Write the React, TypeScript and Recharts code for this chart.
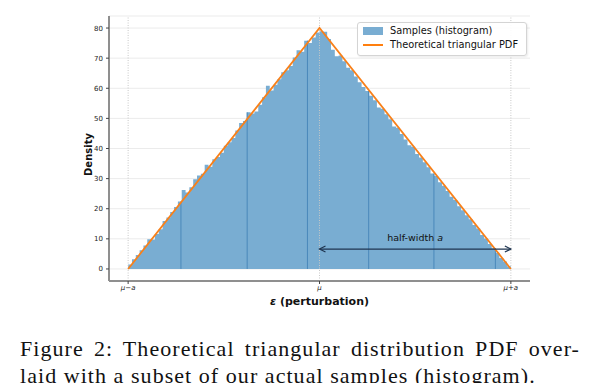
import {
  ComposedChart,
  Area,
  Line,
  XAxis,
  YAxis,
  CartesianGrid,
  ReferenceLine,
  ReferenceDot,
} from "recharts";

// histogram bin heights (density), 100 bins over [mu-a, mu+a]
const histHeights = [
  1.5, 3.2, 4.6, 6.2, 7.8, 9.9, 9.8, 11.6, 13.2, 15.9,
  17.1, 18.9, 20.6, 22.4, 26.2, 25.4, 27.1, 29.8, 31.0, 31.6,
  34.6, 33.9, 36.4, 37.2, 38.6, 40.9, 42.1, 43.5, 46.0, 48.5,
  49.1, 52.0, 51.6, 52.3, 54.5, 57.0, 60.8, 59.3, 61.2, 63.0,
  65.3, 66.0, 67.4, 70.2, 72.6, 72.1, 75.8, 75.0, 76.9, 78.5,
  78.9, 78.8, 76.4, 72.8, 70.6, 70.9, 69.0, 66.8, 66.0, 63.9,
  62.0, 60.4, 59.1, 57.5, 56.0, 53.6, 53.2, 51.4, 49.7, 47.3,
  46.9, 44.8, 43.0, 41.1, 40.6, 38.2, 37.0, 35.4, 33.8, 31.7,
  30.9, 28.8, 27.6, 25.9, 24.0, 22.9, 20.8, 19.5, 17.8, 16.5,
  14.6, 13.4, 11.3, 10.1, 8.3, 6.9, 5.4, 3.6, 2.5, 0.9,
];
const binStart = -1;
const binWidth = 0.02;

const pdfX = [-1, 0, 1];
const pdfY = [0, 80, 0];

const xTicks = [-1, 0, 1];
const xTickLabels = ["μ−a", "μ", "μ+a"];
const yTicks = [0, 10, 20, 30, 40, 50, 60, 70, 80];

// darker bar-edge streaks visible in the histogram
const streakX = [-0.724, -0.378, -0.063, 0.257, 0.598, 0.919];
const arrowY = 6.6;

const histData = histHeights.map((h, i) => ({ x: binStart + i * binWidth, h }));
histData.push({ x: binStart + histHeights.length * binWidth, h: histHeights[histHeights.length - 1] });
const pdfData = pdfX.map((x, i) => ({ x, pdf: pdfY[i] }));

const heightAt = (x: number) => {
  const i = Math.min(histHeights.length - 1, Math.floor((x - binStart) / binWidth));
  return histHeights[i];
};

const FONT = "'DejaVu Sans', sans-serif";

function LegendBox() {
  return (
    <div
      style={{
        position: "absolute",
        left: 357,
        top: 22,
        width: 168,
        height: 32,
        border: "1px solid #d4d4d4",
        borderRadius: 3,
        background: "rgba(255,255,255,0.9)",
        boxShadow: "1px 1px 2px rgba(0,0,0,0.08)",
        fontFamily: FONT,
        fontSize: 9.8,
        color: "#111",
      }}
    >
      <div style={{ position: "absolute", left: 5, top: 4, width: 20, height: 8, background: "#79add2" }} />
      <div style={{ position: "absolute", left: 32, top: 1, lineHeight: "13px" }}>Samples (histogram)</div>
      <div style={{ position: "absolute", left: 5, top: 21, width: 20, height: 2, background: "#ff7f0e" }} />
      <div style={{ position: "absolute", left: 32, top: 15, lineHeight: "13px" }}>Theoretical triangular PDF</div>
    </div>
  );
}

function Arrow(props: any) {
  const { x1, y1, x2, y2 } = props;
  const c = "#1f3550";
  return (
    <g stroke={c} strokeWidth={1.2} fill="none">
      <line x1={x1} y1={y1} x2={x2} y2={y2} />
      <polyline points={`${x1 + 6},${y1 - 3} ${x1},${y1} ${x1 + 6},${y1 + 3}`} />
      <polyline points={`${x2 - 6},${y2 - 3} ${x2},${y2} ${x2 - 6},${y2 + 3}`} />
    </g>
  );
}

export default function App() {
  return (
    <div style={{ width: 600, background: "#fff" }}>
      <style>{"body{margin:0}"}</style>
      <div style={{ position: "relative", width: 600, height: 315 }}>
        <ComposedChart
          width={600}
          height={315}
          margin={{ top: 16, right: 70, bottom: 4, left: 79 }}
        >
          <CartesianGrid vertical={false} stroke="#ebebeb" strokeWidth={1} />
          {xTicks.map((t) => (
            <ReferenceLine key={t} x={t} stroke="#c8c8c8" strokeDasharray="1 1.5" strokeWidth={1} />
          ))}
          <XAxis
            dataKey="x"
            type="number"
            domain={[-1.1, 1.1]}
            allowDataOverflow
            ticks={xTicks}
            tickFormatter={(v: number) => xTickLabels[xTicks.indexOf(v)]}
            tick={{ fontFamily: FONT, fontSize: 7, fill: "#222", fontStyle: "italic" }}
            tickSize={3}
            tickMargin={1}
            height={30}
            axisLine={{ stroke: "#8f8f8f", strokeWidth: 2 }}
            tickLine={{ stroke: "#444" }}
            label={{
              content: (p: any) => {
                const vb = p.viewBox;
                return (
                  <text
                    x={vb.x + vb.width / 2}
                    y={vb.y + 24}
                    textAnchor="middle"
                    fontFamily={FONT}
                    fontSize={11}
                    fontWeight="bold"
                    fill="#111"
                  >
                    <tspan fontStyle="italic">ε</tspan> (perturbation)
                  </text>
                );
              },
            }}
          />
          <YAxis
            type="number"
            domain={[-4, 84]}
            ticks={yTicks}
            width={30}
            tick={{ fontFamily: FONT, fontSize: 7, fill: "#222" }}
            tickSize={3}
            tickMargin={3}
            axisLine={{ stroke: "#8f8f8f", strokeWidth: 2 }}
            tickLine={{ stroke: "#444" }}
            label={{
              content: (p: any) => {
                const vb = p.viewBox;
                const cx = vb.x + 9;
                const cy = vb.y + vb.height / 2 + 6;
                return (
                  <text
                    x={cx}
                    y={cy}
                    transform={`rotate(-90 ${cx} ${cy})`}
                    textAnchor="middle"
                    dominantBaseline="central"
                    fontFamily={FONT}
                    fontSize={10}
                    fontWeight="bold"
                    fill="#111"
                  >
                    Density
                  </text>
                );
              },
            }}
          />
          <Area
            data={histData}
            dataKey="h"
            type="stepAfter"
            fill="#79add2"
            fillOpacity={1}
            stroke="none"
            isAnimationActive={false}
            name="Samples (histogram)"
          />
          {streakX.map((sx) => (
            <ReferenceLine
              key={sx}
              segment={[
                { x: sx, y: 0 },
                { x: sx, y: heightAt(sx) },
              ]}
              stroke="#4a88ba"
              strokeWidth={1}
            />
          ))}
          <Line
            data={pdfData}
            dataKey="pdf"
            type="linear"
            stroke="#f8801a"
            strokeWidth={1.8}
            dot={false}
            isAnimationActive={false}
            name="Theoretical triangular PDF"
          />
          <ReferenceLine
            segment={[
              { x: 0, y: arrowY },
              { x: 1, y: arrowY },
            ]}
            shape={Arrow}
          />
          <ReferenceDot
            x={0.5}
            y={arrowY}
            r={0}
            fill="none"
            stroke="none"
            label={{
              content: (p: any) => {
                const vb = p.viewBox;
                return (
                  <text
                    x={vb.x + (vb.width || 0) / 2}
                    y={vb.y - 8}
                    textAnchor="middle"
                    fontFamily={FONT}
                    fontSize={9.5}
                    fill="#111"
                  >
                    half-width <tspan fontStyle="italic">a</tspan>
                  </text>
                );
              },
            }}
          />
        </ComposedChart>
        <LegendBox />
      </div>
      <div
        style={{
          marginTop: 20,
          marginLeft: 20,
          width: 560,
          fontFamily: "'Liberation Serif', serif",
          fontSize: 22,
          letterSpacing: 1.05,
          lineHeight: "27px",
          color: "#111",
        }}
      >
        <div style={{ textAlign: "justify", textAlignLast: "justify", whiteSpace: "nowrap" }}>
          Figure 2: Theoretical triangular distribution PDF over-
        </div>
        <div style={{ whiteSpace: "nowrap" }}>laid with a subset of our actual samples (histogram).</div>
      </div>
    </div>
  );
}
